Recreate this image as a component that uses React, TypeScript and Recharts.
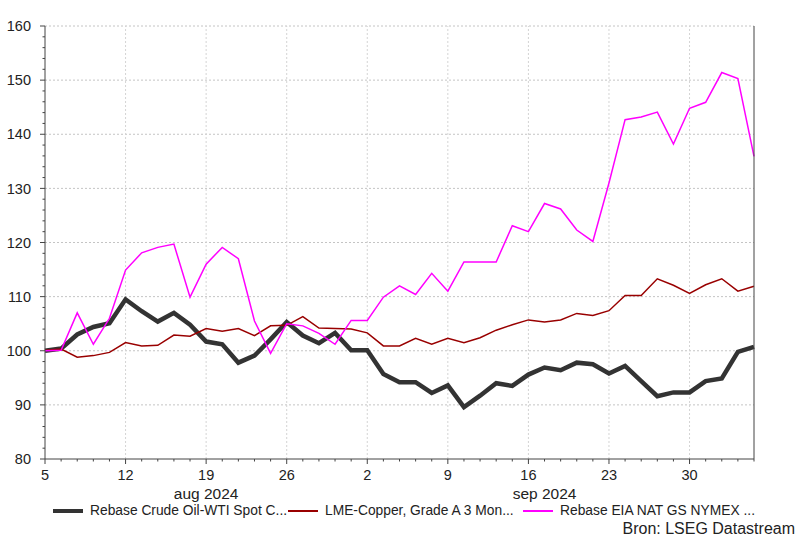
import React from 'react';
import { LineChart, Line, XAxis, YAxis, ReferenceLine } from 'recharts';

// business days, 5 aug - 4 oct 2024
const dates = [
  '2024-08-05', '2024-08-06', '2024-08-07', '2024-08-08', '2024-08-09',
  '2024-08-12', '2024-08-13', '2024-08-14', '2024-08-15', '2024-08-16',
  '2024-08-19', '2024-08-20', '2024-08-21', '2024-08-22', '2024-08-23',
  '2024-08-26', '2024-08-27', '2024-08-28', '2024-08-29', '2024-08-30',
  '2024-09-02', '2024-09-03', '2024-09-04', '2024-09-05', '2024-09-06',
  '2024-09-09', '2024-09-10', '2024-09-11', '2024-09-12', '2024-09-13',
  '2024-09-16', '2024-09-17', '2024-09-18', '2024-09-19', '2024-09-20',
  '2024-09-23', '2024-09-24', '2024-09-25', '2024-09-26', '2024-09-27',
  '2024-09-30', '2024-10-01', '2024-10-02', '2024-10-03', '2024-10-04',
];

const wti = [
  100.0, 100.4, 103.0, 104.4, 105.1, 109.5, 107.3, 105.4, 107.0, 104.8,
  101.7, 101.2, 97.8, 99.1, 102.1, 105.3, 102.8, 101.4, 103.3, 100.1,
  100.1, 95.7, 94.2, 94.2, 92.2, 93.6, 89.6, 91.7, 94.0, 93.5,
  95.6, 96.9, 96.4, 97.8, 97.5, 95.8, 97.2, 94.4, 91.6, 92.3,
  92.3, 94.4, 94.9, 99.8, 100.7,
];

const copper = [
  100.1, 100.3, 98.8, 99.1, 99.7, 101.5, 100.9, 101.0, 102.9, 102.7,
  104.1, 103.6, 104.1, 102.8, 104.6, 104.7, 106.3, 104.2, 104.1, 104.0,
  103.3, 100.9, 100.9, 102.3, 101.2, 102.3, 101.5, 102.4, 103.8, 104.8,
  105.7, 105.3, 105.7, 106.9, 106.5, 107.4, 110.2, 110.2, 113.3, 112.1,
  110.6, 112.2, 113.3, 111.0, 111.9,
];

const natGas = [
  100.0, 100.1, 107.0, 101.2, 106.0, 114.9, 118.1, 119.1, 119.7, 109.9,
  116.0, 119.1, 117.0, 105.5, 99.5, 105.0, 104.6, 103.2, 101.2, 105.6,
  105.6, 109.9, 112.0, 110.4, 114.3, 111.0, 116.4, 116.4, 116.4, 123.1,
  122.0, 127.2, 126.2, 122.3, 120.2, 131.0, 142.7, 143.2, 144.1, 138.2,
  144.8, 145.9, 151.4, 150.3, 135.9,
];

const yTicks = [80, 82, 84, 86, 88, 90, 92, 94, 96, 98, 100, 102, 104, 106, 108, 110, 112, 114, 116, 118,
  120, 122, 124, 126, 128, 130, 132, 134, 136, 138, 140, 142, 144, 146, 148, 150, 152, 154, 156, 158, 160];
const yGrid = [90, 100, 110, 120, 130, 140, 150, 160];

const monthLabels = [
  { date: '2024-08-19', label: 'aug 2024' },
  { date: '2024-09-17', label: 'sep 2024' },
];

const series = [
  { key: 'wti', name: 'Rebase Crude Oil-WTI Spot C...', color: '#333333', width: 4.5 },
  { key: 'copper', name: 'LME-Copper, Grade A 3 Mon...', color: '#990000', width: 1.5 },
  { key: 'gas', name: 'Rebase EIA NAT GS NYMEX ...', color: '#ff00ff', width: 1.5 },
];

const font = '"Liberation Sans", Arial, sans-serif';
const axisColor = '#444444';
const textColor = '#222222';

const isMonday = (d: string) => {
  const [y, m, day] = d.split('-').map(Number);
  return new Date(Date.UTC(y, m - 1, day)).getUTCDay() === 1;
};

const data = dates.map((d, i) => ({ i, wti: wti[i], copper: copper[i], gas: natGas[i] }));
const mondays = dates.map((d, i) => (isMonday(d) ? i : -1)).filter((i) => i >= 0);

const XTick = (props: any) => {
  const { x, y, payload } = props;
  const d = dates[payload.value];
  const major = isMonday(d);
  const month = monthLabels.find((m) => m.date === d);
  return (
    <g>
      <line x1={x} x2={x} y1={y} y2={y + (major ? 5 : 2.5)} stroke={axisColor} />
      {major && (
        <text x={x} y={y + 21} textAnchor="middle" fontSize={14.5} fill={textColor} fontFamily={font}>
          {Number(d.slice(8))}
        </text>
      )}
      {month && (
        <text x={x} y={y + 40} textAnchor="middle" fontSize={15.5} fill={textColor} fontFamily={font}>
          {month.label}
        </text>
      )}
    </g>
  );
};

const YTick = (props: any) => {
  const { x, y, payload, side } = props;
  const major = payload.value % 10 === 0;
  const dir = side === 'left' ? -1 : 1;
  return (
    <g>
      <line x1={x} x2={x + dir * (major ? 5 : 2.5)} y1={y} y2={y} stroke={axisColor} />
      {major && (
        <text
          x={x + dir * (side === 'left' ? 14 : 15)}
          y={y}
          dy="0.36em"
          textAnchor={side === 'left' ? 'end' : 'start'}
          fontSize={14.5}
          fill={textColor}
          fontFamily={font}
        >
          {payload.value}
        </text>
      )}
    </g>
  );
};

export default function App() {
  return (
    <div style={{ position: 'absolute', left: 0, top: 0, width: 800, height: 540, background: '#fff', fontFamily: font }}>
      <LineChart width={800} height={540} data={data} margin={{ top: 26, right: 0, bottom: 0, left: 0 }}>
        <XAxis
          dataKey="i"
          type="number"
          domain={[0, dates.length - 1]}
          ticks={dates.map((_, i) => i)}
          interval={0}
          height={81}
          tickSize={0}
          tickMargin={0}
          tickLine={false}
          axisLine={{ stroke: axisColor }}
          tick={<XTick />}
        />
        <YAxis
          yAxisId="left"
          domain={[80, 160]}
          ticks={yTicks}
          interval={0}
          width={45}
          tickSize={0}
          tickMargin={0}
          tickLine={false}
          axisLine={{ stroke: axisColor }}
          tick={<YTick side="left" />}
        />
        <YAxis
          yAxisId="right"
          orientation="right"
          domain={[80, 160]}
          ticks={yTicks}
          interval={0}
          width={46}
          tickSize={0}
          tickMargin={0}
          tickLine={false}
          axisLine={{ stroke: axisColor }}
          tick={<YTick side="right" />}
        />
        {yGrid.map((v) => (
          <ReferenceLine key={'h' + v} yAxisId="left" y={v} stroke="#c4c4c4" strokeDasharray="2 2" />
        ))}
        {mondays.filter((i) => i > 0).map((i) => (
          <ReferenceLine key={'v' + i} yAxisId="left" x={i} stroke="#d4d4d4" strokeDasharray="2 2" />
        ))}
        {series.map((s) => (
          <Line
            key={s.key}
            yAxisId="left"
            type="linear"
            dataKey={s.key}
            stroke={s.color}
            strokeWidth={s.width}
            dot={false}
            isAnimationActive={false}
          />
        ))}
      </LineChart>
      <div style={{ position: 'absolute', left: 53, top: 503, display: 'flex', fontSize: 13.8, lineHeight: '15px', color: textColor, whiteSpace: 'nowrap' }}>
        {series.map((s) => (
          <div key={s.key} style={{ width: 235, display: 'flex', alignItems: 'center' }}>
            <span style={{ display: 'inline-block', width: 30, height: s.width > 2 ? 4 : 2, background: s.color, marginRight: 7, flexShrink: 0 }} />
            <span>{s.name}</span>
          </div>
        ))}
      </div>
      <div style={{ position: 'absolute', right: 5, top: 520, fontSize: 16, color: textColor }}>Bron: LSEG Datastream</div>
    </div>
  );
}
